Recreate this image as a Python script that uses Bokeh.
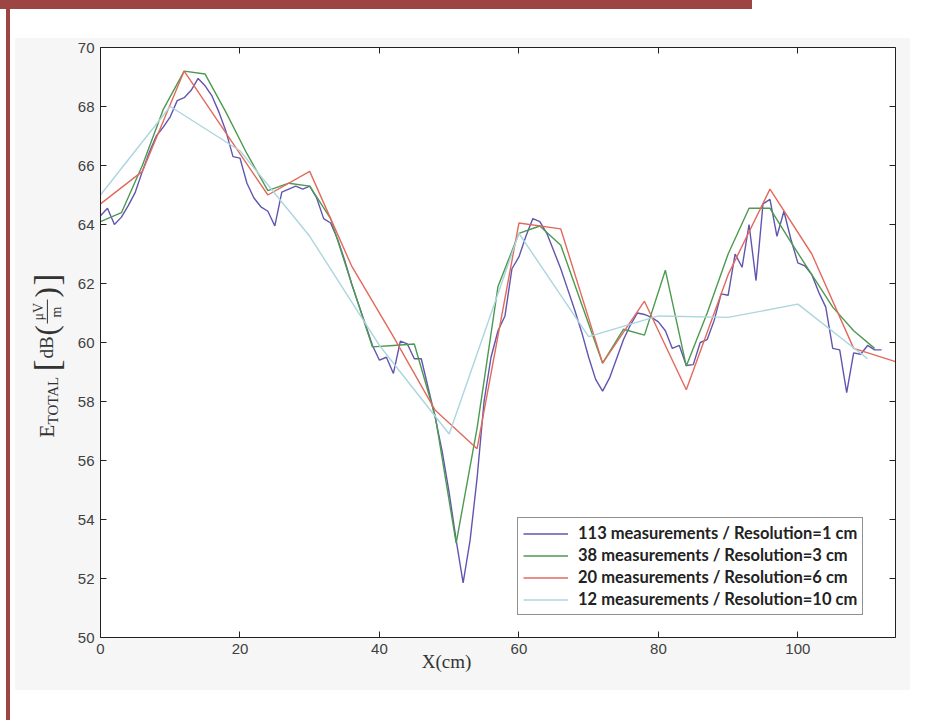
from bokeh.plotting import figure
from bokeh.models import Range1d, LinearAxis, FixedTicker, Label, BoxAnnotation, Legend, LegendItem
from bokeh.embed import file_html
from bokeh.resources import INLINE

# ---------------- data ----------------
x_1cm = [0, 1, 2, 3, 4, 5, 6, 7, 8, 9, 10, 11, 12, 13, 14, 15, 16, 17, 18, 19,
         20, 21, 22, 23, 24, 25, 26, 27, 28, 29, 30, 31, 32, 33, 34, 35, 36, 37, 38, 39,
         40, 41, 42, 43, 44, 45, 46, 47, 48, 49, 50, 51, 52, 53, 54, 55, 56, 57, 58, 59,
         60, 61, 62, 63, 64, 65, 66, 67, 68, 69, 70, 71, 72, 73, 74, 75, 76, 77, 78, 79,
         80, 81, 82, 83, 84, 85, 86, 87, 88, 89, 90, 91, 92, 93, 94, 95, 96, 97, 98, 99,
         100, 101, 102, 103, 104, 105, 106, 107, 108, 109, 110, 111, 112]
e_1cm = [64.3, 64.55, 64.0, 64.25, 64.65, 65.1, 65.8, 66.45, 67.0, 67.3,
         67.65, 68.2, 68.3, 68.55, 68.95, 68.7, 68.35, 67.8, 67.15, 66.3,
         66.25, 65.4, 64.9, 64.6, 64.45, 63.95, 65.1, 65.2, 65.3, 65.2,
         65.3, 64.9, 64.2, 64.05, 63.5, 62.8, 62.0, 61.3, 60.6, 59.9,
         59.4, 59.5, 58.95, 60.05, 59.95, 59.45, 59.45, 58.45, 57.45, 56.3,
         54.9, 53.3, 51.85, 53.3, 55.4, 58.0, 59.5, 60.4, 60.9, 62.5,
         62.9, 63.6, 64.2, 64.1, 63.7, 63.1, 62.5, 61.8, 61.1, 60.35,
         59.5, 58.75, 58.35, 58.8, 59.45, 60.1, 60.6, 61.0, 60.95, 60.85,
         60.7, 60.4, 59.8, 59.9, 59.22, 59.25, 60.0, 60.1, 60.75, 61.65,
         61.6, 63.0, 62.55, 64.0, 62.1, 64.7, 64.85, 63.6, 64.45, 63.5,
         62.7, 62.6, 62.3, 61.7, 61.2, 59.8, 59.75, 58.3, 59.65, 59.6,
         59.9, 59.75, 59.75]

x_3cm = [0, 3, 6, 9, 12, 15, 18, 21, 24, 27, 30, 33, 36, 39, 42, 45, 48, 51, 54,
         57, 60, 63, 66, 69, 72, 75, 78, 81, 84, 87, 90, 93, 96, 99, 102, 105, 108, 111]
e_3cm = [64.1, 64.4, 66.0, 67.9, 69.2, 69.1, 67.8, 66.4, 65.15, 65.4,
         65.3, 64.2, 62.0, 59.85, 59.9, 59.95, 57.5, 53.2, 57.1, 61.9,
         63.7, 63.95, 63.3, 61.3, 59.3, 60.45, 60.25, 62.45, 59.2, 61.0,
         63.0, 64.55, 64.55, 63.4, 62.3, 61.2, 60.4, 59.8]

x_6cm = [0, 6, 12, 18, 24, 30, 36, 42, 48, 54, 60, 66, 72, 78, 84, 90, 96, 102, 108, 114]
e_6cm = [64.7, 65.8, 69.2, 67.1, 65.0, 65.8, 62.6, 60.2, 57.7, 56.4,
         64.05, 63.85, 59.3, 61.4, 58.4, 62.3, 65.2, 63.0, 59.8, 59.35]

x_10cm = [0, 10, 20, 30, 40, 50, 60, 70, 80, 90, 100, 110]
e_10cm = [65.0, 68.0, 66.5, 63.6, 59.9, 56.9, 63.7, 60.2, 60.9, 60.85, 61.3, 59.45]

series_labels = ["113 measurements / Resolution=1 cm",
                 "38 measurements / Resolution=3 cm",
                 "20 measurements / Resolution=6 cm",
                 "12 measurements / Resolution=10 cm"]
series_colors = ["#6155b0", "#4c9a50", "#e26a5c", "#acd5de"]

x_ticks = [0, 20, 40, 60, 80, 100]
y_ticks = [50, 52, 54, 56, 58, 60, 62, 64, 66, 68, 70]
X_MIN, X_MAX = 0, 114
Y_MIN, Y_MAX = 50, 70

# ---------------- layout (page pixels) ----------------
W, H = 935, 720
B_LEFT, B_RIGHT, B_TOP, B_BOTTOM = 28, 4, 4, 26
AX_LEFT_PX, AX_RIGHT_PX, AX_TOP_PX, AX_BOTTOM_PX = 100, 895, 47, 637
SX = (AX_RIGHT_PX - AX_LEFT_PX) / (X_MAX - X_MIN)
SY = (AX_BOTTOM_PX - AX_TOP_PX) / (Y_MAX - Y_MIN)

def px_to_x(px):
    return X_MIN + (px - AX_LEFT_PX) / SX

def py_to_y(py):
    return Y_MIN + (AX_BOTTOM_PX - py) / SY

x_range = Range1d(px_to_x(B_LEFT), px_to_x(W - B_RIGHT))
y_range = Range1d(py_to_y(H - B_BOTTOM), py_to_y(B_TOP))

# page decoration (red frame bars and the faint grey scanned-figure backdrop)
# painted behind a transparent canvas
page_background = ("linear-gradient(#9c4543,#9c4543) 0px 0px / 752px 9px no-repeat, "
                   "linear-gradient(#9c4543,#9c4543) 6px 0px / 4px 720px no-repeat, "
                   "linear-gradient(#f6f6f6,#f6f6f6) 15px 38px / 895px 652px no-repeat, "
                   "#ffffff")

p = figure(width=W, height=H, output_backend="svg", toolbar_location=None,
           x_range=x_range, y_range=y_range,
           x_axis_location=None, y_axis_location=None,
           min_border_left=B_LEFT, min_border_right=B_RIGHT,
           min_border_top=B_TOP, min_border_bottom=B_BOTTOM,
           styles={"background": page_background})
p.background_fill_alpha = 0
p.border_fill_alpha = 0
p.outline_line_color = None
p.grid.visible = False

# white axes area
p.add_layout(BoxAnnotation(left=X_MIN, right=X_MAX, top=Y_MAX, bottom=Y_MIN,
                           fill_color="#ffffff", fill_alpha=1, line_color=None, level="underlay"))

def make_axis(ticks, fixed, bounds, show_labels):
    ax = LinearAxis(fixed_location=fixed, bounds=bounds, ticker=FixedTicker(ticks=ticks))
    ax.axis_line_color = "#222222"
    ax.axis_line_width = 1
    ax.major_tick_line_color = "#222222"
    ax.major_tick_in = 6
    ax.major_tick_out = 0
    ax.minor_tick_line_color = None
    ax.major_label_text_font = "Liberation Sans"
    if show_labels:
        ax.major_label_text_font_size = "15px"
        ax.major_label_text_color = "#404040"
        ax.major_label_standoff = 6
    else:
        ax.major_label_text_font_size = "0px"
        ax.major_label_text_color = None
        ax.major_label_standoff = 0
    return ax

p.add_layout(make_axis(x_ticks, Y_MIN, (X_MIN, X_MAX), True), "below")
p.add_layout(make_axis(y_ticks, X_MIN, (Y_MIN, Y_MAX), True), "left")
p.add_layout(make_axis(x_ticks, Y_MAX, (X_MIN, X_MAX), False), "above")
p.add_layout(make_axis(y_ticks, X_MAX, (Y_MIN, Y_MAX), False), "right")

# ---------------- lines ----------------
xs = [x_1cm, x_3cm, x_6cm, x_10cm]
ys = [e_1cm, e_3cm, e_6cm, e_10cm]
items = []
for xv, yv, col, lab in zip(xs, ys, series_colors, series_labels):
    r = p.line(xv, yv, line_color=col, line_width=1.4)
    items.append(LegendItem(label=lab, renderers=[r]))

legend = Legend(items=items, location=(517 - B_LEFT, (H - B_BOTTOM) - 615))
legend.label_text_font = "Lato"
legend.label_text_font_style = "bold"
legend.label_text_font_size = "16.5px"
legend.label_text_color = "#222222"
legend.border_line_color = "#222222"
legend.border_line_width = 1.2
legend.background_fill_color = "white"
legend.background_fill_alpha = 1
legend.glyph_width = 45
legend.glyph_height = 19
legend.label_height = 19
legend.spacing = 2
legend.padding = 5
legend.margin = 0
legend.label_standoff = 10
p.add_layout(legend, "center")

# ---------------- axis titles ----------------
serif = "Liberation Serif"
p.add_layout(Label(x=px_to_x(446), y=py_to_y(661), text="X(cm)", text_font=serif,
                   text_font_size="19px", text_color="#333333",
                   text_align="center", text_baseline="middle"))

ylab_parts = [
    # text, page x (centre line), page y where the text starts (reads upward), size
    ("E", 46, 437, "21px"),
    ("TOTAL", 52, 424, "15px"),
    ("[", 46, 371, "36px"),
    ("dB", 46, 358, "19px"),
    ("(", 46, 335, "31px"),
    ("μV", 38, 320, "14px"),
    ("m", 56, 317, "14px"),
    (")", 46, 297, "31px"),
    ("]", 46, 285, "36px"),
]
for txt, px, py, size in ylab_parts:
    p.add_layout(Label(x=px_to_x(px), y=py_to_y(py), text=txt, text_font=serif,
                       text_font_size=size, text_color="#333333", angle=90, angle_units="deg",
                       text_align="left", text_baseline="middle"))
# fraction bar of μV/m
p.add_layout(BoxAnnotation(left=px_to_x(46.4), right=px_to_x(47.4), bottom=py_to_y(323),
                           top=py_to_y(299), fill_color="#333333", fill_alpha=1, line_color=None))

open("out.html", "w").write(file_html(p, INLINE))
